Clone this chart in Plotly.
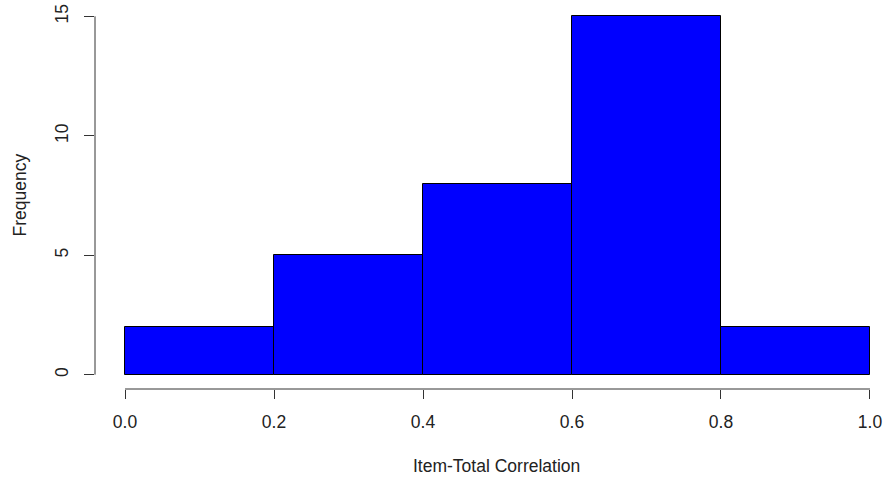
import plotly.graph_objects as go

# Histogram of item-total correlations: bin edges and counts
bin_edges = [0.0, 0.2, 0.4, 0.6, 0.8, 1.0]
counts = [2, 5, 8, 15, 2]
x_ticks = [0.0, 0.2, 0.4, 0.6, 0.8, 1.0]
x_tick_labels = ["0.0", "0.2", "0.4", "0.6", "0.8", "1.0"]
y_ticks = [0, 5, 10, 15]
y_tick_labels = ["0", "5", "10", "15"]

centers = [(a + b) / 2 for a, b in zip(bin_edges[:-1], bin_edges[1:])]
widths = [b - a for a, b in zip(bin_edges[:-1], bin_edges[1:])]

FONT = "Liberation Sans, Arial, sans-serif"
FS = 17.5

fig = go.Figure()
fig.add_trace(go.Bar(
    x=centers, y=counts, width=widths,
    marker=dict(color="#0000FF", line=dict(color="black", width=1)),
    hoverinfo="x+y",
))

# Detached axis lines spanning only the tick range
fig.add_shape(type="line", xref="x", yref="paper", x0=x_ticks[0], x1=x_ticks[-1], y0=0, y1=0,
              line=dict(color="#333333", width=1))
fig.add_shape(type="line", xref="paper", yref="y", x0=0, x1=0, y0=y_ticks[0], y1=y_ticks[-1],
              line=dict(color="#333333", width=1))

fig.update_layout(
    width=886, height=478,
    margin=dict(l=95, r=0, t=2, b=89),
    paper_bgcolor="white", plot_bgcolor="white",
    showlegend=False, bargap=0,
    font=dict(family=FONT, size=FS, color="#222222"),
    xaxis=dict(range=[-0.0403, 1.0215], showgrid=False, zeroline=False, showline=False,
               tickmode="array", tickvals=x_ticks, ticktext=x_tick_labels,
               ticks="outside", ticklen=9, tickcolor="#333333", tickwidth=1,
               ticklabelstandoff=8),
    yaxis=dict(range=[-0.6, 15.6], showgrid=False, zeroline=False, showline=False,
               tickmode="array", tickvals=y_ticks, ticktext=y_tick_labels,
               ticks="outside", ticklen=10, tickcolor="#333333", tickwidth=1,
               tickangle=-90, ticklabelstandoff=9),
    annotations=[
        dict(text="Item-Total Correlation", xref="paper", yref="paper",
             x=(496 - 95) / 791, y=-(466 - 389) / 387, xanchor="center", yanchor="middle",
             showarrow=False, font=dict(family=FONT, size=FS, color="#222222")),
        dict(text="Frequency", xref="paper", yref="paper",
             x=-(95 - 19.5) / 791, y=(389 - 195) / 387, xanchor="center", yanchor="middle",
             textangle=-90, showarrow=False, font=dict(family=FONT, size=FS, color="#222222")),
    ],
)

fig.write_html("out.html")
